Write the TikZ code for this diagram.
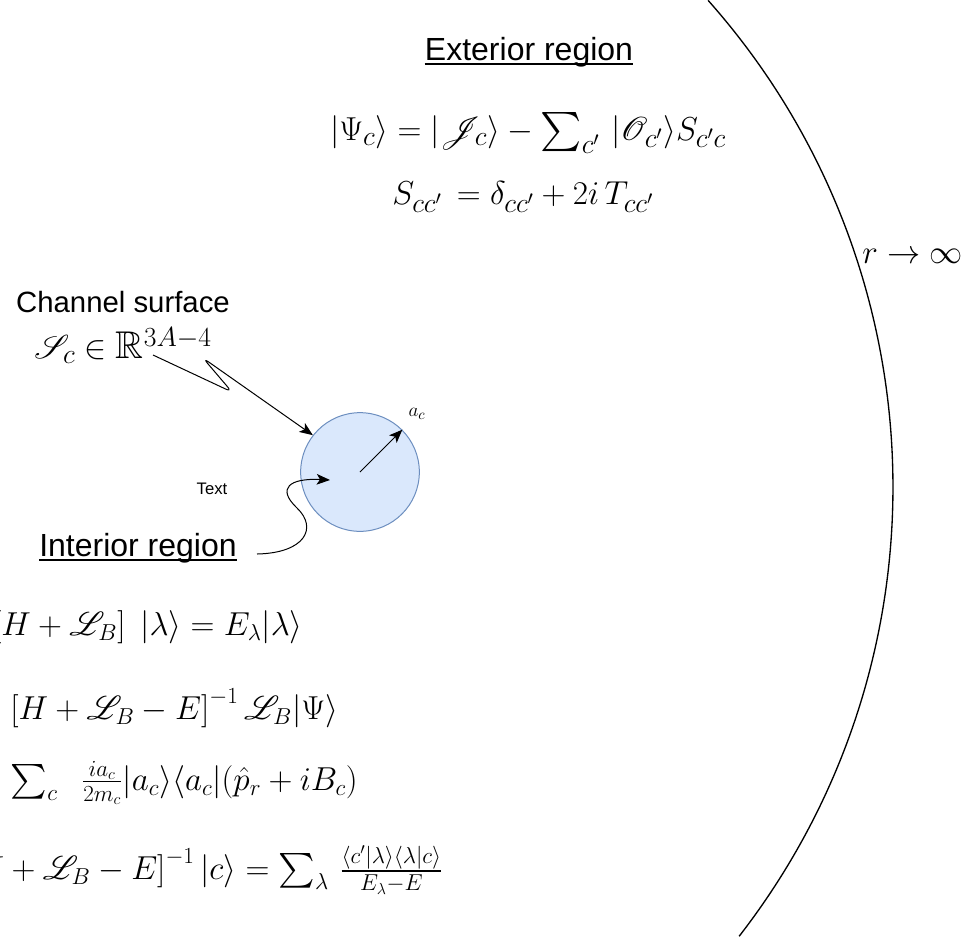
\documentclass[tikz,border=0pt]{standalone}
\usepackage{amsmath,amssymb}
\usepackage{mathrsfs}
\usepackage{fontspec}
\setmainfont{Liberation Sans}
\usepackage{xcolor}
\usetikzlibrary{arrows.meta, positioning, calc}
\definecolor{surfacefill}{HTML}{DAE8FC}
\definecolor{surfacedraw}{HTML}{6C8EBF}
\tikzstyle{heading} = [inner sep=0pt, font=\fontsize{24}{28}\selectfont]
\tikzstyle{eqn} = [inner sep=0pt, font=\fontsize{26}{30}\selectfont]
\tikzstyle{bigeqn} = [inner sep=0pt, font=\fontsize{29.3}{34}\selectfont]
\tikzstyle{smalltext} = [inner sep=0pt, font=\fontsize{12.5}{15}\selectfont]
\tikzstyle{ptr} = [line width=0.75pt, -{Stealth[length=10pt, width=8pt, inset=2.5pt]}]
\tikzstyle{uline} = [line width=1.4pt]

\begin{document}
\begin{tikzpicture}[x=0.75pt, y=-0.75pt]
\useasboundingbox (0,0) rectangle (967,936);
\clip (0,0) rectangle (967,936);

% Exterior region
\node (ext) [heading] at (529,52) {Exterior region};
\draw [uline] ($(ext.base west)+(0,4)$) -- ($(ext.base east)+(0,4)$);
\node (psi) [bigeqn] at (528,133) {$|\Psi_c\rangle = |\mathscr{J}_c\rangle - \sum_{c'}\,|\mathscr{O}_{c'}\rangle S_{c'c}$};
\node (smat) [bigeqn] at (523,197) {$S_{cc'}\, = \delta_{cc'} + 2i\,T_{cc'}$};
\node (rinf) [eqn, font=\fontsize{27.5}{30}\selectfont, anchor=west] at (862,256) {$r \to \infty$};

% Channel surface
\node (chan) [heading, font=\fontsize{22}{26}\selectfont] at (123,302) {Channel surface};
\node (chanmath) [eqn, font=\fontsize{29}{32}\selectfont, below of=chan, node distance=33pt] {$\mathscr{S}_c \in \mathbb{R}^{3A-4}$};
\node (surf) [circle, draw=surfacedraw, fill=surfacefill, line width=0.75pt, minimum size=89pt, inner sep=0pt] at (360,472) {};
\node (ac) [smalltext, font=\fontsize{15}{18}\selectfont] at (417,414) {$a_c$};
\node (txt) [smalltext] at (212,489) {Text};

% Interior region
\node (intr) [heading] at (138,548) {Interior region};
\draw [uline] ($(intr.base west)+(0,4)$) -- ($(intr.base east)+(0,4)$);
\node (eigen) [eqn, font=\fontsize{27}{30}\selectfont, anchor=east] at (303,627) {$\left[H + \mathscr{L}_B\right]\;|\lambda\rangle = E_\lambda|\lambda\rangle$};
\node (resolv) [eqn, anchor=west] at (10,708) {$\left[H + \mathscr{L}_B - E\right]^{-1}\mathscr{L}_B|\Psi\rangle$};
\node (bloch) [eqn, anchor=east] at (358,783) {$\sum_c\;\;\frac{ia_c}{2m_c}|a_c\rangle\langle a_c|(\hat{p}_r + iB_c)$};
\node (green) [eqn, anchor=east] at (443,870) {$\left[H + \mathscr{L}_B - E\right]^{-1}|c\rangle = \sum_\lambda\,\frac{\langle c'|\lambda\rangle\langle\lambda|c\rangle}{E_\lambda - E}$};

% Outer boundary
\coordinate (far) at (160,487);
\draw [line width=1pt] ($(far)+(-41.6:733)$) arc [start angle=-41.6, end angle=37.8, radius=733];

% Arrows
\coordinate (chanfoot) at (153,355);
\coordinate (intfoot) at (257,554);
\coordinate (inttip) at (330,480);
\draw [ptr] (surf.center) -- (surf.45);
\draw [ptr, rounded corners=5pt] (chanfoot) -- (232,392) -- (203,358) -- (surf.142);
\draw [ptr] (intfoot) .. controls (305,553) and (318,528) .. (297,508) .. controls (276,488) and (290,478) .. (inttip);

\end{tikzpicture}
\end{document}
